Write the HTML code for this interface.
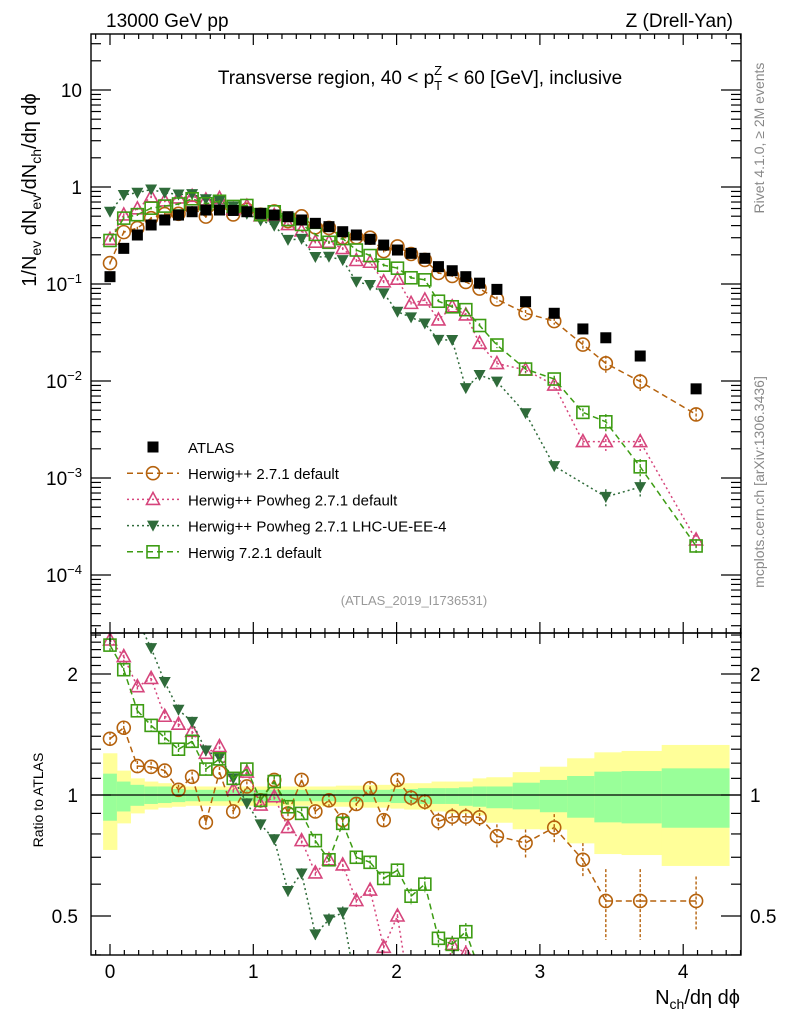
<!DOCTYPE html>
<html><head><meta charset="utf-8"><style>
html,body{margin:0;padding:0;background:#fff;overflow:hidden;width:786px;height:1024px}
svg{display:block}
svg text{font-family:"Liberation Sans",sans-serif}
</style></head><body>
<svg id="chart" width="786" height="1024" viewBox="0 0 786 1024" xmlns="http://www.w3.org/2000/svg">
<defs>
<clipPath id="clipTop"><rect x="91" y="34" width="650" height="599"/></clipPath>
<clipPath id="clipRat"><rect x="91" y="633" width="650" height="322"/></clipPath>
</defs>
<rect width="786" height="1024" fill="#fff"/>
<g id="bands" clip-path="url(#clipRat)"></g>
<g id="marks"></g>
<g id="axes"></g>
<text x="106" y="27" font-size="19">13000 GeV pp</text>
<text x="733" y="27" font-size="19" text-anchor="end">Z (Drell-Yan)</text>
<text x="420" y="84" font-size="19" text-anchor="middle">Transverse region, 40 &lt; p<tspan font-size="13" dy="6">T</tspan><tspan font-size="13" dx="-8" dy="-15">Z</tspan><tspan dy="9"> &lt; 60 [GeV], inclusive</tspan></text>
<text x="414" y="605" font-size="13" fill="#999" text-anchor="middle">(ATLAS_2019_I1736531)</text>
<text transform="translate(764,138) rotate(-90)" font-size="14" fill="#888" text-anchor="middle">Rivet 4.1.0, ≥ 2M events</text>
<text transform="translate(764,482) rotate(-90)" font-size="14" fill="#888" text-anchor="middle">mcplots.cern.ch [arXiv:1306.3436]</text>
<text transform="translate(36,190) rotate(-90)" font-size="20" text-anchor="middle">1/N<tspan font-size="14" dy="5">ev</tspan><tspan dy="-5"> dN</tspan><tspan font-size="14" dy="5">ev</tspan><tspan dy="-5">/dN</tspan><tspan font-size="14" dy="5">ch</tspan><tspan dy="-5">/dη dϕ</tspan></text>
<text transform="translate(43,800) rotate(-90)" font-size="14" text-anchor="middle">Ratio to ATLAS</text>
<text x="740" y="1004" font-size="20" text-anchor="end">N<tspan font-size="14" dy="5">ch</tspan><tspan dy="-5">/dη dϕ</tspan></text>
<g id="legend"></g>
</svg>
<script>
const xs = [0,0.096,0.191,0.287,0.382,0.478,0.573,0.669,0.764,0.860,0.955,1.051,1.146,1.242,1.337,1.433,1.528,1.624,1.719,1.815,1.910,2.006,2.101,2.197,2.292,2.388,2.483,2.579,2.70,2.90,3.10,3.30,3.46,3.70,4.09];
const binEdges = [-0.048,0.048,0.143,0.239,0.334,0.430,0.525,0.621,0.716,0.812,0.907,1.003,1.098,1.194,1.289,1.385,1.480,1.576,1.671,1.767,1.862,1.958,2.053,2.149,2.244,2.340,2.435,2.531,2.626,2.81,3.00,3.19,3.38,3.57,3.85,4.32];
const atlas = [0.119,0.233,0.320,0.406,0.457,0.514,0.556,0.579,0.579,0.573,0.556,0.535,0.514,0.494,0.457,0.422,0.390,0.346,0.320,0.289,0.252,0.224,0.207,0.184,0.151,0.137,0.119,0.102,0.088,0.0657,0.0499,0.0344,0.0279,0.0181,0.0083];
const ratioHerwigpp = [1.38,1.47,1.18,1.175,1.15,1.03,1.11,0.855,1.14,0.91,1.05,0.97,1.09,0.90,1.09,0.91,0.97,0.866,0.95,1.04,0.866,1.09,0.985,0.962,0.86,0.883,0.883,0.88,0.79,0.76,0.83,0.69,0.545,0.545,0.545];
const ratioPowheg = [2.43,2.21,1.86,1.95,1.57,1.50,1.44,1.27,1.32,1.03,1.14,0.944,0.99,0.83,0.77,0.64,0.69,0.67,0.546,0.58,0.418,0.50,0.305,0.372,0.282,0.425,0.403,0.24,0.172,0.198,0.182,0.069,0.085,0.131,0.0277];
const ratioPowhegUE = [4.67,3.55,2.73,2.32,1.91,1.63,1.52,1.29,1.24,1.10,0.953,0.845,0.776,0.577,0.638,0.45,0.49,0.51,0.33,0.338,0.318,0.231,0.219,0.213,0.176,0.193,0.071,0.113,0.112,0.0707,0.0266,null,0.0229,0.0445,null];
const ratioHerwig7 = [2.36,2.05,1.62,1.49,1.39,1.30,1.36,1.16,1.23,1.10,1.16,0.97,1.08,0.935,0.90,0.77,0.69,0.85,0.70,0.68,0.62,0.65,0.56,0.60,0.44,0.425,0.457,0.366,0.267,0.202,0.21,0.138,0.136,0.072,0.024];
const mcErr = [0.04,0.04,0.03,0.03,0.03,0.03,0.03,0.03,0.03,0.03,0.03,0.03,0.03,0.03,0.03,0.03,0.035,0.035,0.035,0.04,0.04,0.04,0.045,0.045,0.05,0.05,0.05,0.055,0.07,0.08,0.08,0.1,0.2,0.2,0.15];
const bandGreenHi = [1.13,1.08,1.06,1.05,1.05,1.035,1.03,1.03,1.03,1.03,1.03,1.03,1.03,1.03,1.03,1.03,1.03,1.03,1.03,1.03,1.03,1.035,1.035,1.04,1.04,1.04,1.045,1.05,1.05,1.073,1.09,1.115,1.143,1.147,1.165];
const bandGreenLo = [0.863,0.91,0.94,0.95,0.955,0.96,0.965,0.965,0.965,0.965,0.965,0.965,0.965,0.965,0.965,0.965,0.965,0.96,0.96,0.96,0.96,0.955,0.955,0.95,0.95,0.95,0.94,0.935,0.927,0.921,0.906,0.878,0.855,0.85,0.829];
const bandYellowHi = [1.27,1.15,1.10,1.08,1.07,1.06,1.05,1.05,1.05,1.05,1.05,1.05,1.05,1.05,1.05,1.05,1.05,1.055,1.055,1.06,1.06,1.065,1.07,1.07,1.08,1.08,1.08,1.10,1.107,1.14,1.176,1.234,1.277,1.287,1.332];
const bandYellowLo = [0.73,0.85,0.90,0.92,0.93,0.935,0.94,0.94,0.94,0.94,0.94,0.94,0.94,0.94,0.94,0.94,0.935,0.935,0.93,0.93,0.93,0.925,0.92,0.92,0.91,0.90,0.90,0.89,0.853,0.822,0.82,0.758,0.713,0.709,0.666];
const xTicks = [0,1,2,3,4];
const yTopTicks = [-4,-3,-2,-1,0,1];
const yRatTicks = [0.5,1,2];
const legendLabels = ["ATLAS","Herwig++ 2.7.1 default","Herwig++ Powheg 2.7.1 default","Herwig++ Powheg 2.7.1 LHC-UE-EE-4","Herwig 7.2.1 default"];

const NS="http://www.w3.org/2000/svg";
const L=91,R=741,T=34,MID=633,B=955;
const xp=v=>110+v*143.3;
const yt=v=>187-97*Math.log10(v);
const yr=r=>795-121*Math.log2(r);
const clampR=y=>Math.min(B,Math.max(MID,y));
function mk(tag,attrs,parent){const e=document.createElementNS(NS,tag);for(const k in attrs)e.setAttribute(k,attrs[k]);parent.appendChild(e);return e;}
const bands=document.getElementById('bands'),marks=document.getElementById('marks'),axes=document.getElementById('axes'),legend=document.getElementById('legend');

for(let i=0;i<xs.length;i++){
  const x1=xp(binEdges[i]),x2=xp(binEdges[i+1]);
  const ry=mk('rect',{x:x1,y:yr(bandYellowHi[i]),width:x2-x1+0.5,height:yr(bandYellowLo[i])-yr(bandYellowHi[i]),fill:'#ffff99'},bands);
  
  
  const rg=mk('rect',{x:x1,y:yr(bandGreenHi[i]),width:x2-x1+0.5,height:yr(bandGreenLo[i])-yr(bandGreenHi[i]),fill:'#99ff99'},bands);
  
  
}
const one=mk('line',{x1:L,x2:R,y1:yr(1),y2:yr(1),stroke:'#000','stroke-width':1.3},axes);



function marker(g,type,x,y,color){
  let e;
  if(type==='sqfill'){e=mk('rect',{x:x-5.5,y:y-5.5,width:11,height:11,fill:'#000'},g);}
  else if(type==='circle'){e=mk('circle',{cx:x,cy:y,r:6.5,fill:'none',stroke:color,'stroke-width':1.6},g);}
  else if(type==='tri'){e=mk('polygon',{points:`${x},${y-7} ${x-6.5},${y+5} ${x+6.5},${y+5}`,fill:'none',stroke:color,'stroke-width':1.6},g);}
  else if(type==='trid'){e=mk('polygon',{points:`${x-6},${y-5} ${x+6},${y-5} ${x},${y+6}`,fill:color},g);}
  else {e=mk('rect',{x:x-6,y:y-6,width:12,height:12,fill:'none',stroke:color,'stroke-width':1.6},g);}
  return e;
}

// clip a polyline segment list to vertical range [MID,B]
function clipSeg(p,q){
  let [x1,y1]=p,[x2,y2]=q;
  if((y1<MID&&y2<MID)||(y1>B&&y2>B)) return null;
  const f=(y)=>x1+(x2-x1)*(y-y1)/(y2-y1);
  if(y1<MID){x1=f(MID);y1=MID;} else if(y1>B){x1=f(B);y1=B;}
  [x2,y2]=q; const xa=p[0],ya=p[1];
  const g=(y)=>xa+(q[0]-xa)*(y-ya)/(q[1]-ya);
  if(y2<MID){x2=g(MID);y2=MID;} else if(y2>B){x2=g(B);y2=B;}
  return [x1,y1,x2,y2];
}

const series=[
 {ratio:ratioHerwigpp,color:'#b5620d',type:'circle',dash:'6,4',name:'herwigpp-271'},
 {ratio:ratioPowheg,color:'#d6457c',type:'tri',dash:'2,3',name:'herwigpp-powheg-271'},
 {ratio:ratioPowhegUE,color:'#2f6b3a',type:'trid',dash:'2,3',name:'herwigpp-powheg-lhc-ue'},
 {ratio:ratioHerwig7,color:'#3d9c13',type:'sq',dash:'6,4',name:'herwig-721'}
];
const gTop=mk('g',{'clip-path':'url(#clipTop)'},marks);
const gRat=mk('g',{'clip-path':'url(#clipRat)'},marks);
series.forEach(s=>{
  let pT=[],pR=[];
  const g1=mk('g',{},gTop);
  
  
  const g2=mk('g',{},gRat);
  
  
  for(let i=0;i<xs.length;i++){
    const r=s.ratio[i]; if(r==null) continue;
    const v=atlas[i]*r, x=xp(xs[i]);
    pT.push([x,yt(v)]); pR.push([x,yr(r)]);
  }
  mk('polyline',{points:pT.map(p=>p.join(',')).join(' '),fill:'none',stroke:s.color,'stroke-width':1.5,'stroke-dasharray':s.dash},g1);
  for(let j=0;j+1<pR.length;j++){
    const c=clipSeg(pR[j],pR[j+1]); if(!c) continue;
    mk('line',{x1:c[0],y1:c[1],x2:c[2],y2:c[3],stroke:s.color,'stroke-width':1.5,'stroke-dasharray':s.dash},g2);
  }
  for(let i=0;i<xs.length;i++){
    const r=s.ratio[i]; if(r==null) continue;
    const v=atlas[i]*r, x=xp(xs[i]), e=mcErr[i];
    mk('line',{x1:x,x2:x,y1:yt(v*(1+e)),y2:yt(v*(1-e)),stroke:s.color,'stroke-width':1.4,'stroke-dasharray':'3,2'},g1);
    const m1=marker(g1,s.type,x,yt(v),s.color);
    
    
    const yy=yr(r);
    const ea=clampR(yr(r*(1+e))), eb=clampR(yr(r*(1-e)));
    if(eb>ea) mk('line',{x1:x,x2:x,y1:ea,y2:eb,stroke:s.color,'stroke-width':1.4,'stroke-dasharray':'3,2'},g2);
    if(yy>MID-8&&yy<B+8){
      const m2=marker(g2,s.type,x,yy,s.color);
      
      
    }
  }
});
const gA=mk('g',{},gTop);


for(let i=0;i<xs.length;i++){
  const m=marker(gA,'sqfill',xp(xs[i]),yt(atlas[i]));
  
  
}

[[T,MID],[MID,B]].forEach(([a,b],k)=>{
  const f=mk('rect',{x:L,y:a,width:R-L,height:b-a,fill:'none',stroke:'#000','stroke-width':1.4},axes);
  
  
  for(let v=-0.1;v<=4.41;v+=0.1){
    const x=xp(v); if(x<L||x>R) continue;
    const maj=Math.abs(v-Math.round(v))<0.01;
    const len=maj?11:5;
    mk('line',{x1:x,x2:x,y1:b,y2:b-len,stroke:'#000','stroke-width':1.2},axes);
    mk('line',{x1:x,x2:x,y1:a,y2:a+len,stroke:'#000','stroke-width':1.2},axes);
  }
});
xTicks.forEach(v=>{
  const t=mk('text',{x:xp(v),y:978,'font-size':19,'text-anchor':'middle'},axes);
  t.textContent=v;
  
  
});
for(let d=-5;d<=1;d++){
  for(let m=1;m<10;m++){
    const v=m*Math.pow(10,d), y=yt(v); if(y<T||y>MID) continue;
    const len=m===1?20:10;
    mk('line',{x1:L,x2:L+len,y1:y,y2:y,stroke:'#000','stroke-width':1.2},axes);
    mk('line',{x1:R,x2:R-len,y1:y,y2:y,stroke:'#000','stroke-width':1.2},axes);
  }
}
yTopTicks.forEach(d=>{
  const y=yt(Math.pow(10,d));
  const t=mk('text',{x:82,y:y+7,'font-size':19,'text-anchor':'end'},axes);
  
  
  if(d===0) t.textContent='1';
  else if(d===1) t.textContent='10';
  else { t.textContent='10'; const s=mk('tspan',{'font-size':13,dy:-8},t); s.textContent='−'+(-d); }
});
[0.4,0.5,0.6,0.7,0.8,0.9,1,1.1,1.2,1.3,1.4,1.5,1.6,1.7,1.8,1.9,2,2.1,2.2,2.3,2.4,2.5].forEach(r=>{
  const y=yr(r); if(y<MID||y>B) return;
  const maj=yRatTicks.includes(r); const len=maj?20:10;
  mk('line',{x1:L,x2:L+len,y1:y,y2:y,stroke:'#000','stroke-width':1.2},axes);
  mk('line',{x1:R,x2:R-len,y1:y,y2:y,stroke:'#000','stroke-width':1.2},axes);
});
yRatTicks.forEach(r=>{
  const y=yr(r)+7;
  const t=mk('text',{x:78,y:y,'font-size':19,'text-anchor':'end'},axes);
  t.textContent=r;
  
  
  const t2=mk('text',{x:750,y:y,'font-size':19},axes);
  t2.textContent=r;
  
  
});
const legTypes=[['sqfill','#000',''],['circle','#b5620d','6,4'],['tri','#d6457c','2,3'],['trid','#2f6b3a','2,3'],['sq','#3d9c13','6,4']];
legendLabels.forEach((lab,i)=>{
  const y=447+i*26.2;
  const g=mk('g',{},legend);
  
  
  const [tp,c,d]=legTypes[i];
  if(i>0) mk('line',{x1:127,x2:179,y1:y,y2:y,stroke:c,'stroke-width':1.5,'stroke-dasharray':d},g);
  marker(g,tp,153,y,c);
  const t=mk('text',{x:188,y:y+6,'font-size':15},g);
  t.textContent=lab;
});
</script>
</body></html>
